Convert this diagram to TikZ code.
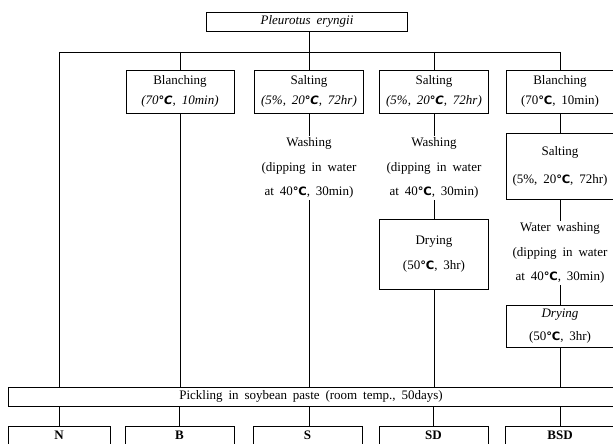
\documentclass[tikz,border=0pt]{standalone}
\usepackage{fontspec}
\setmainfont{Liberation Serif}[WordSpace=1.8]
\newfontfamily\symfnt{DejaVu Sans}
\newcommand\degc{{\symfnt\fontsize{11.5}{11.5}\selectfont\bfseries ℃}}
\begin{document}
\begin{tikzpicture}[x=1pt,y=-1pt,
  box/.style={draw, line width=0.8pt, inner sep=0pt, align=center, minimum width=108pt},
  two/.style={font=\fontsize{13}{#1}\selectfont},
  txt/.style={inner sep=1.5pt, align=center, font=\fontsize{13}{24.5}\selectfont},
  conn/.style={line width=0.8pt},
  lab/.style={draw, line width=0.8pt, anchor=north, inner xsep=0pt, inner ysep=3pt,
    text height=10.5pt, text depth=30pt, font=\fontsize{13}{13}\selectfont\bfseries}]
\useasboundingbox (0,0) rectangle (613,444);
\clip (0,0) rectangle (613,444);
\fill[white] (0,0) rectangle (613,444);
% top
\node[box, minimum width=201pt, minimum height=19pt, font=\fontsize{13}{13}\selectfont\itshape] (top) at (307,21.5) {Pleurotus eryngii};
% branch coordinates
\coordinate (h1) at (59,52);
\coordinate (h2) at (180,52);
\coordinate (h3) at (309,52);
\coordinate (h4) at (434,52);
\coordinate (h5) at (560,52);
% row 1
\node[box, minimum height=43pt, two=20] (b1) at (180,91.5) {Blanching\\\textit{(70\degc, 10min)}};
\node[box, minimum width=109pt, minimum height=43pt, two=20] (s1) at (309,91.5) {Salting\\\textit{(5\%, 20\degc, 72hr)}};
\node[box, minimum width=109pt, minimum height=43pt, two=20] (s2) at (434,91.5) {Salting\\\textit{(5\%, 20\degc, 72hr)}};
\node[box, minimum height=43pt, two=20] (b2) at (560,91.5) {Blanching\\(70\degc, 10min)};
% washing texts
\node[txt] (w1) at (309,168) {Washing\\(dipping in water\\at 40\degc, 30min)};
\node[txt] (w2) at (434,168) {Washing\\(dipping in water\\at 40\degc, 30min)};
% right column
\node[box, minimum height=66pt, two=28] (s3) at (560,166) {Salting\\(5\%, 20\degc, 72hr)};
\node[box, minimum width=109pt, minimum height=70pt, two=25] (d1) at (434,254) {Drying\\(50\degc, 3hr)};
\node[txt] (w3) at (560,253) {Water washing\\(dipping in water\\at 40\degc, 30min)};
\node[box, minimum height=42pt, two=23] (d2) at (560,326) {\textit{Drying}\\(50\degc, 3hr)};
% pickling
\node[box, minimum width=606pt, minimum height=19pt, font=\fontsize{13}{13}\selectfont] (pk) at (311,396.5) {Pickling in soybean paste (room temp., 50days)};
% bottom labels
\node[lab, minimum width=102pt] (N) at (59,426) {N};
\node[lab, minimum width=109pt] (B) at (179.5,426) {B};
\node[lab, minimum width=109pt] (S) at (307.5,426) {S};
\node[lab, minimum width=109pt] (SD) at (433.5,426) {SD};
\node[lab, minimum width=109pt] (BSD) at (560,426) {BSD};
% connectors
\draw[conn] (h1) -- (h5);
\draw[conn] (top.south -| h3) -- (s1.north -| h3);
\draw[conn] (h1) -- (pk.north -| h1);
\draw[conn] (h2) -- (b1);
\draw[conn] (h4) -- (s2);
\draw[conn] (h5) -- (b2);
\draw[conn] (b1) -- (pk.north -| b1);
\draw[conn] (s1.south -| h3) -- (w1.north -| h3);
\draw[conn] (w1.south -| h3) -- (pk.north -| h3);
\draw[conn] (s2) -- (w2);
\draw[conn] (w2) -- (d1);
\draw[conn] (d1) -- (pk.north -| d1);
\draw[conn] (b2) -- (s3);
\draw[conn] (s3) -- (w3);
\draw[conn] (w3) -- (d2);
\draw[conn] (d2) -- (pk.north -| d2);
\draw[conn] (pk.south -| N) -- (N);
\draw[conn] (pk.south -| B) -- (B);
\draw[conn] (pk.south -| h3) -- (S.north -| h3);
\draw[conn] (pk.south -| SD) -- (SD);
\draw[conn] (pk.south -| BSD) -- (BSD);
\end{tikzpicture}
\end{document}
